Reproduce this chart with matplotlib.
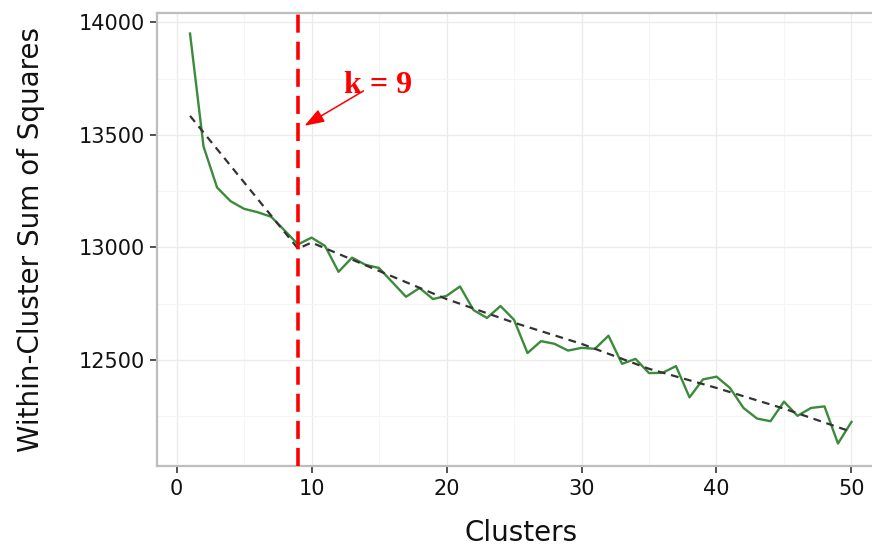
import matplotlib
matplotlib.use('Agg')
import matplotlib.pyplot as plt
from matplotlib.ticker import MultipleLocator

# within-cluster sum of squares for k = 1..50
clusters = list(range(1, 51))
wss = [13950, 13448, 13266, 13205, 13171, 13156, 13136, 13075, 13013, 13043,
       13006, 12891, 12954, 12922, 12908, 12844, 12780, 12819, 12770, 12784,
       12826, 12721, 12686, 12739, 12678, 12530, 12583, 12571, 12541, 12553,
       12549, 12607, 12482, 12504, 12441, 12442, 12472, 12333, 12413, 12425,
       12375, 12286, 12239, 12227, 12314, 12251, 12286, 12293, 12128, 12224]

# fitted trend (dashed), read at a few points
trend_x = [1, 9, 10, 15, 20, 25, 30, 35, 40, 45, 50]
trend_y = [13584, 12994, 13021, 12895, 12770, 12665, 12571, 12460, 12375, 12283, 12180]

best_k = 9

fig = plt.figure(figsize=(8.72, 5.5), dpi=100)
ax = fig.add_axes([0.1800, 0.1527, 0.8344, 0.8236])

ax.plot(clusters, wss, color='#3b8b3b', lw=1.7, zorder=3)
ax.plot(trend_x, trend_y, color='#333333', lw=1.6, ls=(0, (3.5, 2.6)), zorder=4)
ax.axvline(best_k, color='#ff0000', lw=2.6, ls=(0, (5, 2.5)), zorder=5)

# label and arrow pointing at the chosen k
ax.text(14.9, 13686, 'k = %d' % best_k, color='#ff0000', fontsize=23,
        fontweight='bold', family='Liberation Serif', ha='center', va='baseline',
        zorder=6)
ax.annotate('', xy=(best_k + 0.48, 13540), xytext=(13.85, 13695),
            arrowprops=dict(arrowstyle='-|>,head_length=1.2,head_width=0.42',
                            color='#ff0000', lw=1.1, shrinkA=0, shrinkB=0),
            zorder=6)

ax.set_xlim(-1.45, 52.45)
ax.set_ylim(12028, 14041)
ax.xaxis.set_major_locator(MultipleLocator(10))
ax.xaxis.set_minor_locator(MultipleLocator(5))
ax.yaxis.set_major_locator(MultipleLocator(500))
ax.yaxis.set_minor_locator(MultipleLocator(250))

ax.grid(which='major', color='#ebebeb', lw=1.0, zorder=0)
ax.grid(which='minor', color='#f5f5f5', lw=0.8, zorder=0)
ax.set_axisbelow(True)

for s in ax.spines.values():
    s.set_color('#bdbdbd')
    s.set_linewidth(1.6)

ax.tick_params(which='major', direction='out', length=5, width=1.2, color='#333333',
               labelsize=15, labelcolor='#111111', pad=4)
ax.tick_params(which='minor', length=0)

ax.set_xlabel('Clusters', fontsize=20, color='#111111', labelpad=15)
ax.set_ylabel('Within-Cluster Sum of Squares', fontsize=20, color='#111111', labelpad=24)

fig.savefig('out.png', dpi=100)
